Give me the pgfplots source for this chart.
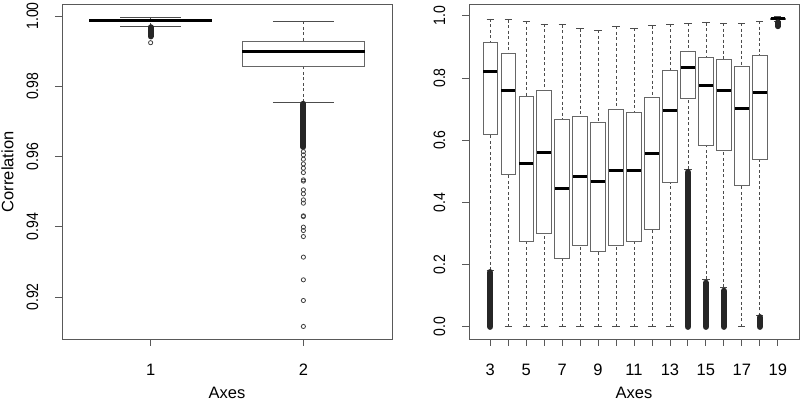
\documentclass[border=0pt]{standalone}
\usepackage{fontspec}
\setmainfont{Liberation Sans}
\usepackage{graphicx}
\usepackage{pgfplots}
\pgfplotsset{compat=1.18}
\usepgfplotslibrary{statistics}
\newcommand{\sq}[1]{\scalebox{0.85}[1]{#1}}
\pgfplotsset{
  boxplot/draw direction=y,
  boxplot/box extend=0.8,
  boxplot/whisker extend=0.4,
  boxplot/every box/.style={draw=black!60, line width=0.9pt, fill=white},
  boxplot/every median/.style={draw=black, line width=3pt},
  boxplot/draw/lower whisker/.code={%
    \draw[black!70, line width=0.8pt, dash pattern=on 3pt off 2.5pt]
      (boxplot box cs:\pgfplotsboxplotvalue{lower whisker},0.5) -- (boxplot box cs:\pgfplotsboxplotvalue{lower quartile},0.5);
    \draw[black!70, line width=0.8pt]
      (boxplot whisker cs:\pgfplotsboxplotvalue{lower whisker},0) -- (boxplot whisker cs:\pgfplotsboxplotvalue{lower whisker},1);
  },
  boxplot/draw/upper whisker/.code={%
    \draw[black!70, line width=0.8pt, dash pattern=on 3pt off 2.5pt]
      (boxplot box cs:\pgfplotsboxplotvalue{upper whisker},0.5) -- (boxplot box cs:\pgfplotsboxplotvalue{upper quartile},0.5);
    \draw[black!70, line width=0.8pt]
      (boxplot whisker cs:\pgfplotsboxplotvalue{upper whisker},0) -- (boxplot whisker cs:\pgfplotsboxplotvalue{upper whisker},1);
  },
  Rpanel/.style={
    scale only axis, width=330pt, height=334.3pt,
    axis line style={black!65, line width=0.9pt},
    every tick/.style={black!65, line width=0.9pt},
    tick align=outside, major tick length=7pt,
    xtick pos=bottom, ytick pos=left,
    yticklabel style={xshift=-16.6pt, rotate=90, anchor=south, inner sep=0pt},
    xticklabel style={anchor=north, inner sep=0pt, yshift=-17.5pt},
    every axis y label/.style={at={(axis description cs:0,0.5)}, xshift=-48.7pt, rotate=90, anchor=base, inner sep=0pt},
    every axis x label/.style={at={(axis description cs:0.5,0)}, yshift=-47.5pt, anchor=north, inner sep=0pt},
    xlabel={Axes},
  },
  dense/.style={black!85, line width=6.5pt, line cap=round},
  sparse/.style={only marks, mark=o, mark size=2.1pt, black!75, mark options={line width=0.8pt, solid}},
}
\begin{document}
\fontsize{16.5}{19}\selectfont
\begin{tikzpicture}
\path[use as bounding box] (0,0) rectangle (800pt,401pt);
% ---------------- left panel ----------------
\begin{axis}[Rpanel,
  at={(62pt,62pt)}, anchor=south west,
  xmin=0.42, xmax=2.58, ymin=0.90804, ymax=1.00322,
  xtick={1,2}, xticklabels={1,2},
  ytick={0.92,0.94,0.96,0.98,1.00},
  yticklabels={\sq{0.92},\sq{0.94},\sq{0.96},\sq{0.98},\sq{1.00}},
  ylabel={Correlation},
]
\addplot[draw=black, boxplot prepared={draw position=1,
  lower whisker=0.99707, lower quartile=0.99858, median=0.99878,
  upper quartile=0.99900, upper whisker=0.99963}] coordinates {};
\addplot[draw=black, boxplot prepared={draw position=2,
  lower whisker=0.97545, lower quartile=0.98578, median=0.98976,
  upper quartile=0.99269, upper whisker=0.99849}] coordinates {};
\addplot[dense, line width=6pt] coordinates {(1,0.99680)(1,0.99420)};
\addplot[sparse] coordinates {(1,0.99240)};
\addplot[dense, line width=6pt] coordinates {(2,0.97500)(2,0.96270)};
\addplot[sparse] coordinates {
  (2,0.96139)(2,0.96046)(2,0.95923)(2,0.95789)(2,0.95667)(2,0.95542)
  (2,0.95334)(2,0.95300)(2,0.95050)(2,0.94936)(2,0.94765)(2,0.94671)
  (2,0.94310)(2,0.94290)(2,0.93989)(2,0.93892)(2,0.93721)(2,0.93135)
  (2,0.92489)(2,0.91900)(2,0.91161)};
\end{axis}
% ---------------- right panel ----------------
\begin{axis}[Rpanel,
  at={(469pt,62pt)}, anchor=south west,
  xmin=1.82, xmax=20.18, ymin=-0.0396, ymax=1.036,
  xtick={3,4,...,19},
  xticklabels={3,,5,,7,,9,,11,,13,,15,,17,,19},
  ytick={0,0.2,0.4,0.6,0.8,1.0},
  yticklabels={\sq{0.0},\sq{0.2},\sq{0.4},\sq{0.6},\sq{0.8},\sq{1.0}},
]
\addplot[draw=black, boxplot prepared={draw position=3,  lower whisker=0.182, lower quartile=0.619, median=0.822, upper quartile=0.914, upper whisker=0.990}] coordinates {};
\addplot[draw=black, boxplot prepared={draw position=4,  lower whisker=0.000, lower quartile=0.489, median=0.759, upper quartile=0.880, upper whisker=0.988}] coordinates {};
\addplot[draw=black, boxplot prepared={draw position=5,  lower whisker=0.000, lower quartile=0.274, median=0.525, upper quartile=0.742, upper whisker=0.983}] coordinates {};
\addplot[draw=black, boxplot prepared={draw position=6,  lower whisker=0.000, lower quartile=0.300, median=0.561, upper quartile=0.761, upper whisker=0.974}] coordinates {};
\addplot[draw=black, boxplot prepared={draw position=7,  lower whisker=0.000, lower quartile=0.219, median=0.446, upper quartile=0.667, upper whisker=0.972}] coordinates {};
\addplot[draw=black, boxplot prepared={draw position=8,  lower whisker=0.000, lower quartile=0.262, median=0.483, upper quartile=0.677, upper whisker=0.959}] coordinates {};
\addplot[draw=black, boxplot prepared={draw position=9,  lower whisker=0.000, lower quartile=0.243, median=0.466, upper quartile=0.658, upper whisker=0.954}] coordinates {};
\addplot[draw=black, boxplot prepared={draw position=10, lower whisker=0.000, lower quartile=0.262, median=0.503, upper quartile=0.698, upper whisker=0.966}] coordinates {};
\addplot[draw=black, boxplot prepared={draw position=11, lower whisker=0.000, lower quartile=0.274, median=0.503, upper quartile=0.689, upper whisker=0.960}] coordinates {};
\addplot[draw=black, boxplot prepared={draw position=12, lower whisker=0.000, lower quartile=0.313, median=0.558, upper quartile=0.738, upper whisker=0.969}] coordinates {};
\addplot[draw=black, boxplot prepared={draw position=13, lower whisker=0.000, lower quartile=0.463, median=0.697, upper quartile=0.824, upper whisker=0.974}] coordinates {};
\addplot[draw=black, boxplot prepared={draw position=14, lower whisker=0.507, lower quartile=0.734, median=0.835, upper quartile=0.887, upper whisker=0.977}] coordinates {};
\addplot[draw=black, boxplot prepared={draw position=15, lower whisker=0.152, lower quartile=0.582, median=0.776, upper quartile=0.867, upper whisker=0.978}] coordinates {};
\addplot[draw=black, boxplot prepared={draw position=16, lower whisker=0.127, lower quartile=0.567, median=0.761, upper quartile=0.861, upper whisker=0.977}] coordinates {};
\addplot[draw=black, boxplot prepared={draw position=17, lower whisker=0.000, lower quartile=0.455, median=0.702, upper quartile=0.838, upper whisker=0.977}] coordinates {};
\addplot[draw=black, boxplot prepared={draw position=18, lower whisker=0.035, lower quartile=0.537, median=0.754, upper quartile=0.873, upper whisker=0.983}] coordinates {};
\addplot[draw=black, boxplot prepared={draw position=19, lower whisker=0.983, lower quartile=0.987, median=0.990, upper quartile=0.993, upper whisker=0.997}] coordinates {};
% dense outliers
\addplot[dense] coordinates {(3,0.000)(3,0.175)};
\addplot[dense] coordinates {(14,0.000)(14,0.497)};
\addplot[dense] coordinates {(15,0.000)(15,0.141)};
\addplot[dense] coordinates {(16,0.000)(16,0.115)};
\addplot[dense] coordinates {(18,0.000)(18,0.030)};
\addplot[dense, line width=5.5pt] coordinates {(19,0.980)(19,0.966)};
\end{axis}
\end{tikzpicture}
\end{document}
